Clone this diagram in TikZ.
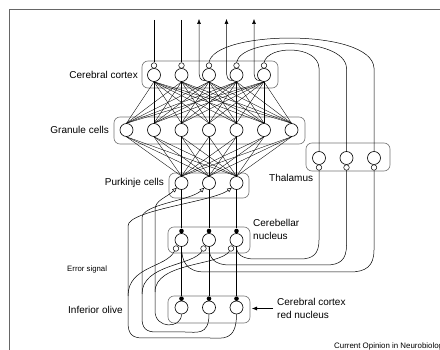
\documentclass[tikz,border=0pt]{standalone}
\usepackage{fontspec}
\setmainfont{Liberation Sans}
\usetikzlibrary{arrows.meta}
\begin{document}
\begin{tikzpicture}[x=1pt,y=-1pt,
 cell/.style={circle,draw,minimum size=13pt,inner sep=0pt,line width=0.6pt,fill=white},
 syn/.style={circle,draw,minimum size=5.5pt,inner sep=0pt,line width=0.5pt,fill=white},
 inh/.style={circle,fill=black,minimum size=4.6pt,inner sep=0pt},
 grp/.style={draw=black!55,rounded corners=6pt,line width=0.6pt},
 wire/.style={line width=0.5pt},
 fan/.style={line width=0.35pt},
 cf/.style={wire,-{Triangle[open,length=4.5pt,width=4pt]}},
 outarr/.style={wire,-{Latex[length=5pt,width=4pt]}},
 lbl/.style={font=\fontsize{10}{13}\selectfont,inner sep=0pt,align=left},
]
\useasboundingbox (0,0) rectangle (440,350);
% frame
\draw[black!60,line width=0.8pt] (9,352) -- (9,9) -- (442,9);
% group boxes
\draw[grp] (142,61) rectangle (278,88);
\draw[grp] (114,117) rectangle (305,144);
\draw[grp] (169,173) rectangle (249,198);
\draw[grp] (168,227) rectangle (250,253);
\draw[grp] (168,296) rectangle (250,323);
\draw[grp] (306,143) rectangle (390,171);
% cells
\foreach \i/\x in {1/154,2/181.5,3/209,4/236.5,5/264}{
  \node[cell] (c\i) at (\x,75) {};
  \node[syn] (cs\i) at (\x,65.5) {};
}
\foreach \i/\x in {1/126.5,2/154,3/181.5,4/209,5/236.5,6/264,7/291.5}{
  \node[cell] (g\i) at (\x,130) {};
}
\foreach \i/\x in {1/181.5,2/209,3/236.5}{
  \node[cell] (p\i) at (\x,183) {};
  \node[cell] (n\i) at (\x,240) {};
  \node[inh] (nd\i) at (\x,231) {};
  \node[syn] (ns\i) at (\x-5.5,248.5) {};
  \node[cell] (io\i) at (\x,307.5) {};
  \node[inh] (iod\i) at (\x,298.7) {};
}
\foreach \i/\x in {1/319,2/346.5,3/374}{
  \node[cell] (t\i) at (\x,158) {};
  \node[syn] (ts\i) at (\x,167.5) {};
}
% fan connections
\foreach \i in {1,...,5}{\foreach \j in {1,...,7}{\draw[fan] (c\i.south) -- (g\j.north);}}
\foreach \j in {1,...,7}{\foreach \k in {1,2,3}{\draw[fan] (g\j.south) -- (p\k.north);}}
% inputs to cortex
\coordinate (in1) at (154,20);
\coordinate (in2) at (181.5,20);
\draw[wire] (in1) -- (cs1.north);
\draw[wire] (in2) -- (cs2.north);
% cortex outputs
\foreach \i/\x in {3/209,4/236.5,5/264}{
  \coordinate (o\i) at (\x-10,19);
  \draw[outarr] (c\i.235) .. controls (\x-9,81) and (\x-10,77) .. (\x-10,70) -- (o\i);
}
% thalamus -> cortex arcs
\draw[wire] (cs3.north) .. controls (214,30) and (372,28) .. (374,68) -- (t3.north);
\draw[wire] (cs4.north) .. controls (241,37) and (345,36) .. (346.5,68) -- (t2.north);
\draw[wire] (cs5.north) .. controls (268,45) and (318,45) .. (319,68) -- (t1.north);
% nucleus -> thalamus
\draw[wire] (ts1.south) -- (319,240) .. controls (319,254) and (313,259) .. (300,259) -- (255,259) .. controls (242,259) and (236.5,254) .. (n3.south);
\draw[wire] (ts2.south) -- (346.5,245) .. controls (346.5,260) and (340,265) .. (326,265) -- (230,265) .. controls (214,265) and (209,258) .. (n2.south);
\draw[wire] (ts3.south) -- (374,250) .. controls (374,266) and (366,272) .. (350,272) -- (205,272) .. controls (187,272) and (181.5,262) .. (n1.south);
% Purkinje -> nucleus, nucleus -> olive (inhibitory)
\foreach \i in {1,2,3}{
  \draw[wire] (p\i.south) -- (nd\i.north);
  \draw[wire] (n\i.south) -- (iod\i.north);
}
% olive -> climbing fibres
\draw[cf] (io1.south) .. controls (181.5,329) and (155,329) .. (155,311) -- (155,210) .. controls (155,200) and (166,198) .. (p1.225);
\draw[cf] (io2.south) .. controls (209,336) and (196,332) .. (185,332) -- (156,332) .. controls (146,332) and (142,328) .. (142,318) -- (142,218) .. controls (142,204) and (190,201) .. (p2.225);
\draw[cf] (io3.south) .. controls (236.5,342) and (222,338) .. (210,338) -- (143,338) .. controls (132,338) and (128,334) .. (128,322) -- (128,226) .. controls (128,210) and (212,202) .. (p3.225);
% collaterals to nucleus
\draw[wire] (ns1.240) .. controls (166,268) and (128,266) .. (128,296);
\draw[wire] (ns2.240) .. controls (193,266) and (142,264) .. (142,294);
\draw[wire] (ns3.240) .. controls (220,266) and (155,262) .. (155,292);
% labels
\node[lbl,anchor=east] (lcc) at (138,75) {Cerebral cortex};
\node[lbl,anchor=east] (lgc) at (109,130) {Granule cells};
\node[lbl,anchor=east] (lpc) at (164,183) {Purkinje cells};
\node[lbl,anchor=west] (lth) at (269,178) {Thalamus};
\node[lbl,anchor=west] (lcn) at (253,229) {Cerebellar\\nucleus};
\node[lbl,anchor=west,font=\fontsize{7.8}{9}\selectfont] (les) at (67,269) {Error signal};
\node[lbl,anchor=west] (lio) at (68,310) {Inferior olive};
\node[lbl,anchor=west] (lrn) at (277,308.5) {Cerebral cortex\\red nucleus};
\node[lbl,anchor=west,font=\fontsize{7.9}{9}\selectfont] (lcop) at (334,346) {Current Opinion in Neurobiology};
\coordinate (ioE) at (252,308.5);
\draw[outarr] ([xshift=-4pt]lrn.west) -- (ioE);
\end{tikzpicture}
\end{document}
